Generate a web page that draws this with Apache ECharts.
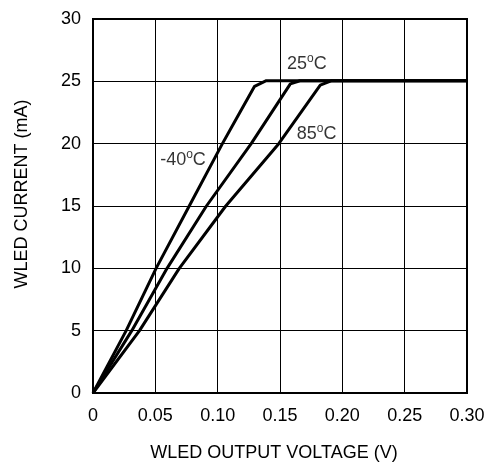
<!DOCTYPE html>
<html>
<head>
<meta charset="utf-8">
<script src="https://cdn.jsdelivr.net/npm/echarts@6/dist/echarts.min.js"></script>
<style>
html,body{margin:0;padding:0;background:#fff;}
#c{width:487px;height:463px;}
</style>
</head>
<body>
<div id="c"></div>
<script>
// Data (voltage V, current mA)
const vM40 = [0, 0.0266, 0.0506, 0.0772, 0.1038, 0.1144, 0.1296, 0.139, 0.30];
const iM40 = [0, 5, 10, 15, 20, 21.9, 24.6, 25.05, 25.05];
const v25 = [0, 0.0311, 0.0594, 0.091, 0.1269, 0.1583, 0.166, 0.30];
const i25 = [0, 5, 10, 15, 20, 24.8, 25.05, 25.05];
const v85 = [0, 0.0373, 0.0692, 0.1065, 0.149, 0.1823, 0.1915, 0.30];
const i85 = [0, 5, 10, 15, 20, 24.7, 25.05, 25.05];
const labelTemps = ['25', '85', '-40'];
const labelV = [0.1716, 0.1794, 0.0722];
const labelI = [26.5, 20.85, 18.76];
const xTicks = ['0', '0.05', '0.10', '0.15', '0.20', '0.25', '0.30'];
const yTicks = ['0', '5', '10', '15', '20', '25', '30'];

const zip = (a, b) => a.map((v, k) => [v, b[k]]);
const font = 'Liberation Sans, Arial, sans-serif';
const lineSeries = (v, i) => ({
  type: 'line', data: zip(v, i), symbol: 'none', silent: true,
  lineStyle: { color: '#000', width: 3, join: 'round' }
});

const chart = echarts.init(document.getElementById('c'));
chart.setOption({
  animation: false,
  backgroundColor: '#fff',
  grid: { left: 93, right: 20, top: 19, bottom: 70, show: true, borderColor: '#000', borderWidth: 2,
    containLabel: false, outerBoundsMode: 'none' },
  xAxis: {
    type: 'value', min: 0, max: 0.3, interval: 0.05,
    name: 'WLED OUTPUT VOLTAGE (V)', nameLocation: 'middle', nameGap: 51,
    nameTextStyle: { fontFamily: font, fontSize: 18, color: '#000', padding: [0, 12, 0, 0] },
    axisLine: { show: false }, axisTick: { show: false },
    axisLabel: { fontFamily: font, fontSize: 18, color: '#000', margin: 14,
      formatter: (v) => xTicks[Math.round(v / 0.05)] },
    splitLine: { show: true, lineStyle: { color: '#000', width: 1 } }
  },
  yAxis: {
    type: 'value', min: 0, max: 30, interval: 5,
    name: 'WLED CURRENT (mA)', nameLocation: 'middle', nameGap: 62,
    nameTextStyle: { fontFamily: font, fontSize: 18, color: '#000', padding: [0, 0, 0, 24] },
    axisLine: { show: false }, axisTick: { show: false },
    axisLabel: { fontFamily: font, fontSize: 18, color: '#000', margin: 12,
      formatter: (v) => yTicks[Math.round(v / 5)] },
    splitLine: { show: true, lineStyle: { color: '#000', width: 1 } }
  },
  series: [
    lineSeries(vM40, iM40),
    lineSeries(v25, i25),
    lineSeries(v85, i85),
    {
      type: 'scatter', symbolSize: 0, silent: true, z: 10,
      data: labelV.map((v, k) => ({ value: [v, labelI[k]], name: labelTemps[k] })),
      label: {
        show: true, position: 'inside',
        formatter: (p) => '{a|' + p.name + '}{s|o}{a|C}',
        rich: {
          a: { fontFamily: font, fontSize: 18, color: '#000', lineHeight: 20, verticalAlign: 'bottom' },
          s: { fontFamily: font, fontSize: 12, color: '#000', lineHeight: 20, verticalAlign: 'top', padding: [0, 0, 6, 0] }
        }
      }
    }
  ]
});
</script>
</body>
</html>
